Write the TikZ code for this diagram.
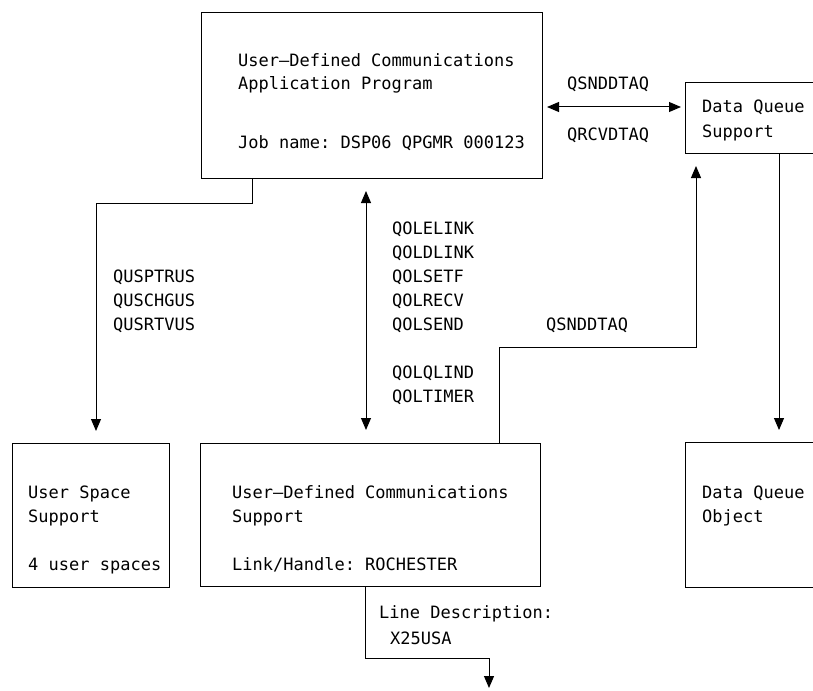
\documentclass[tikz,border=0pt]{standalone}
\usepackage{fontspec}
\setmonofont{DejaVu Sans Mono}
\usetikzlibrary{arrows.meta}
\begin{document}
\begin{tikzpicture}[x=1pt,y=-1pt,
  box/.style={draw, line width=1pt, rectangle, inner sep=0pt, anchor=north west},
  lbl/.style={anchor=base west, inner sep=0pt, font=\ttfamily\fontsize{17}{20}\selectfont},
  wire/.style={line width=1pt},
  arr/.style={wire, -{Triangle[length=12pt,width=10pt]}},
  dbl/.style={wire, {Triangle[length=12pt,width=10pt]}-{Triangle[length=12pt,width=10pt]}}]
  \clip (0,0) rectangle (813,690);
  \fill[white] (0,0) rectangle (813,690);

  % boxes
  \node[box, minimum width=341pt, minimum height=166pt] (app) at (201,12) {};
  \node[box, minimum width=250pt, minimum height=71pt] (dqs) at (685,82) {};
  \node[box, minimum width=157pt, minimum height=144pt] (usp) at (12,443) {};
  \node[box, minimum width=340pt, minimum height=143pt] (udc) at (200,443) {};
  \node[box, minimum width=250pt, minimum height=145pt] (dqo) at (685,442) {};

  % box texts
  \node[lbl] (app1) at (238,67) {User—Defined Communications};
  \node[lbl] (app2) at (238,90) {Application Program};
  \node[lbl] (app3) at (238,148) {Job name: DSP06 QPGMR 000123};
  \node[lbl] (dqs1) at (702,113) {Data Queue};
  \node[lbl] (dqs2) at (702,137) {Support};
  \node[lbl] (usp1) at (28,498) {User Space};
  \node[lbl] (usp2) at (28,522) {Support};
  \node[lbl] (usp3) at (28,570) {4 user spaces};
  \node[lbl] (udc1) at (232,498) {User—Defined Communications};
  \node[lbl] (udc2) at (232,522) {Support};
  \node[lbl] (udc3) at (232,570) {Link/Handle: ROCHESTER};
  \node[lbl] (dqo1) at (702,498) {Data Queue};
  \node[lbl] (dqo2) at (702,522) {Object};

  % connector labels
  \node[lbl] (q1) at (567,90) {QSNDDTAQ};
  \node[lbl] (q2) at (567,140) {QRCVDTAQ};
  \node[lbl] (u1) at (113,282) {QUSPTRUS};
  \node[lbl] (u2) at (113,306) {QUSCHGUS};
  \node[lbl] (u3) at (113,330) {QUSRTVUS};
  \node[lbl] (o1) at (392,234) {QOLELINK};
  \node[lbl] (o2) at (392,258) {QOLDLINK};
  \node[lbl] (o3) at (392,282) {QOLSETF};
  \node[lbl] (o4) at (392,306) {QOLRECV};
  \node[lbl] (o5) at (392,330) {QOLSEND};
  \node[lbl] (o6) at (392,378) {QOLQLIND};
  \node[lbl] (o7) at (392,402) {QOLTIMER};
  \node[lbl] (q3) at (546,330) {QSNDDTAQ};
  \node[lbl] (ld1) at (379,618) {Line Description:};
  \node[lbl] (ld2) at (390,644) {X25USA};

  % connector bends and ends
  \coordinate (c1) at (252,203);
  \coordinate (e1) at (96,431);
  \coordinate (v1) at (366,191);
  \coordinate (v2) at (366,430);
  \coordinate (h1) at (547,107);
  \coordinate (h2) at (681,107);
  \coordinate (r1) at (499,347);
  \coordinate (r2) at (696,166);
  \coordinate (d1) at (779,430);
  \coordinate (b1) at (365,658);
  \coordinate (b2) at (489,688);

  % connectors
  \draw[arr] (app.south -| c1) -- (c1) -| (e1);
  \draw[dbl] (v1) -- (v2);
  \draw[dbl] (h1) -- (h2);
  \draw[arr] (udc.north -| r1) -- (r1) -| (r2);
  \draw[arr] (dqs.south -| d1) -- (d1);
  \draw[arr] (udc.south -| b1) -- (b1) -| (b2);
\end{tikzpicture}
\end{document}
